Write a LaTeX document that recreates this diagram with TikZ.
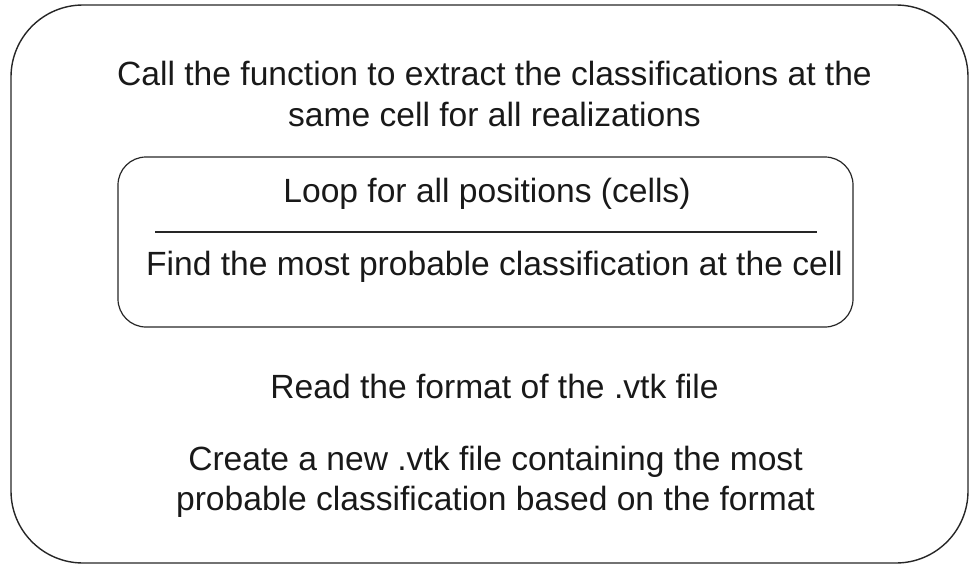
\documentclass[tikz,border=0pt]{standalone}
\usepackage{fontspec}
\setmainfont{Liberation Sans}
\tikzset{
  frame/.style={draw=black!85, line width=1.4pt},
  label/.style={anchor=base, inner sep=0pt, font=\fontsize{33.6}{40}\selectfont, text=black!90}
}
\begin{document}
\begin{tikzpicture}[x=1pt, y=-1pt]
  \useasboundingbox (0,0) rectangle (970,565);
  % outer container
  \draw[frame, rounded corners=72pt] (11,5) rectangle (968,563);
  % inner loop box and its divider
  \draw[frame, line width=1.2pt, rounded corners=28pt] (118,157) rectangle (853,327);
  \coordinate (divL) at (155,232);
  \coordinate (divR) at (817,232);
  \draw[line width=1.2pt, black!85] (divL) -- (divR);
  % texts
  \node[label] (t1) at (494.5,85) {Call the function to extract the classifications at the};
  \node[label] (t2) at (494.5,126) {same cell for all realizations};
  \node[label] (t3) at (487,202) {Loop for all positions (cells)};
  \node[label] (t4) at (494.5,275) {Find the most probable classification at the cell};
  \node[label] (t5) at (494.5,398) {Read the format of the .vtk file};
  \node[label] (t6) at (495.5,470) {Create a new .vtk file containing the most};
  \node[label] (t7) at (495.5,510) {probable classification based on the format};
\end{tikzpicture}
\end{document}
